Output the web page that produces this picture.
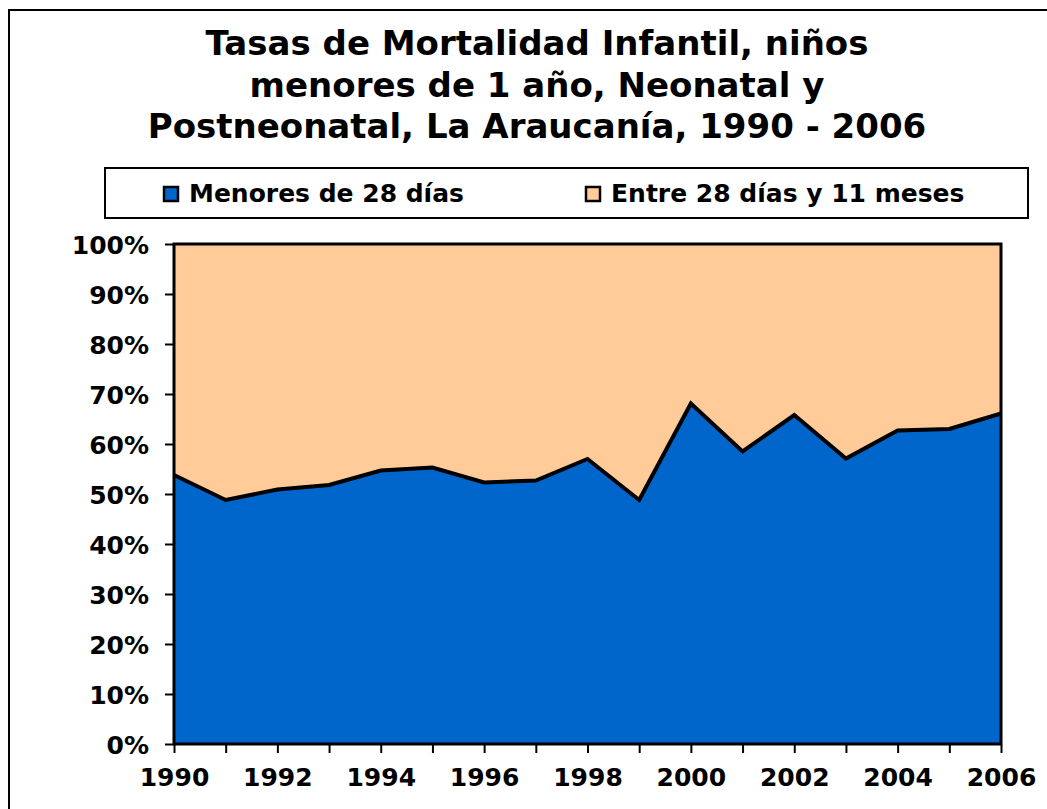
<!DOCTYPE html>
<html>
<head>
<meta charset="utf-8">
<script src="https://cdn.jsdelivr.net/npm/d3@7"></script>
<style>
  body { margin: 0; background: #fff; }
  text { font-family: "DejaVu Sans", Verdana, sans-serif; font-weight: bold; fill: #000; }
</style>
</head>
<body>
<div id="chart"></div>
<script>
(function () {
  // data (share of infant deaths, %)
  const years = [1990, 1991, 1992, 1993, 1994, 1995, 1996, 1997, 1998,
    1999, 2000, 2001, 2002, 2003, 2004, 2005, 2006];
  const neonatal = [53.8, 48.8, 50.9, 51.8, 54.7, 55.3, 52.3, 52.7, 57.0,
    48.8, 68.1, 58.5, 65.8, 57.1, 62.7, 63.0, 66.1];
  const seriesNames = ["Menores de 28 días", "Entre 28 días y 11 meses"];
  const seriesColors = ["#0066CC", "#FFCC99"];
  const yTicks = [0, 10, 20, 30, 40, 50, 60, 70, 80, 90, 100];
  const xLabelYears = [1990, 1992, 1994, 1996, 1998, 2000, 2002, 2004, 2006];
  const titleLines = [
    "Tasas de Mortalidad Infantil, niños",
    "menores de 1 año, Neonatal y",
    "Postneonatal, La Araucanía, 1990 - 2006",
  ];

  const W = 1047;
  const H = 809;
  const plot = { left: 174, right: 1001, top: 244, bottom: 744 };

  const svg = d3
    .select("#chart")
    .append("svg")
    .attr("width", W)
    .attr("height", H);

  // outer chart frame (runs off the right and bottom edges)
  svg
    .append("rect")
    .attr("x", 9)
    .attr("y", 10)
    .attr("width", 1060)
    .attr("height", 830)
    .style("fill", "#fff")
    .style("stroke", "#000")
    .style("stroke-width", 2);

  // title
  svg
    .selectAll("text.title")
    .data(titleLines)
    .join("text")
    .attr("class", "title")
    .attr("text-anchor", "middle")
    .attr("x", 537)
    .attr("y", (d, i) => 55 + i * 41.5)
    .style("font-size", "34px")
    .text((d) => d);

  // legend
  const legend = svg.append("g");
  legend
    .append("rect")
    .attr("x", 105)
    .attr("y", 168)
    .attr("width", 923)
    .attr("height", 50)
    .style("fill", "#fff")
    .style("stroke", "#000")
    .style("stroke-width", 2);
  const legendX = [164, 586];
  seriesNames.forEach((name, i) => {
    legend
      .append("rect")
      .attr("x", legendX[i])
      .attr("y", 187)
      .attr("width", 14)
      .attr("height", 14)
      .style("fill", seriesColors[i])
      .style("stroke", "#000")
      .style("stroke-width", 2.5);
    legend
      .append("text")
      .attr("x", legendX[i] + 25)
      .attr("y", 202)
      .style("font-size", "25px")
      .text(name);
  });

  const x = d3
    .scaleLinear()
    .domain([years[0], years[years.length - 1]])
    .range([plot.left, plot.right]);
  const y = d3
    .scaleLinear()
    .domain([0, 100])
    .range([plot.bottom, plot.top]);

  const rows = years.map((yr, i) => ({
    year: yr,
    a: neonatal[i],
    b: 100 - neonatal[i],
  }));
  const stacked = d3.stack().keys(["a", "b"])(rows);

  const area = d3
    .area()
    .x((d) => x(d.data.year))
    .y0((d) => y(d[0]))
    .y1((d) => y(d[1]));

  svg
    .selectAll("path.layer")
    .data(stacked)
    .join("path")
    .attr("class", "layer")
    .attr("d", area)
    .style("fill", (d, i) => seriesColors[i]);

  // boundary line between the two series
  svg
    .append("path")
    .datum(rows)
    .attr(
      "d",
      d3
        .line()
        .x((d) => x(d.year))
        .y((d) => y(d.a))
    )
    .style("fill", "none")
    .style("stroke", "#000")
    .style("stroke-width", 4)
    .style("stroke-linejoin", "miter");

  // plot border
  svg
    .append("rect")
    .attr("x", plot.left)
    .attr("y", plot.top)
    .attr("width", plot.right - plot.left)
    .attr("height", plot.bottom - plot.top)
    .style("fill", "none")
    .style("stroke", "#000")
    .style("stroke-width", 3);

  // y axis
  const yAxis = svg
    .append("g")
    .attr("transform", `translate(${plot.left - 1}, 0)`)
    .call(
      d3
        .axisLeft(y)
        .tickValues(yTicks)
        .tickSize(8)
        .tickPadding(16)
        .tickFormat((d) => d + "%")
    );
  yAxis.select(".domain").remove();
  yAxis.selectAll(".tick line").style("stroke", "#000").style("stroke-width", 2);
  yAxis
    .selectAll(".tick text")
    .style("font-size", "25px")
    .style("font-family", '"DejaVu Sans", Verdana, sans-serif')
    .attr("dy", "0.36em");

  // x axis
  const xAxis = svg
    .append("g")
    .attr("transform", `translate(0, ${plot.bottom + 1})`)
    .call(
      d3
        .axisBottom(x)
        .tickValues(years)
        .tickSize(8)
        .tickPadding(15)
        .tickFormat((d) => (xLabelYears.includes(d) ? d : ""))
    );
  xAxis.select(".domain").remove();
  xAxis.selectAll(".tick line").style("stroke", "#000").style("stroke-width", 2);
  xAxis
    .selectAll(".tick text")
    .style("font-size", "25px")
    .style("font-family", '"DejaVu Sans", Verdana, sans-serif');
})();
</script>
</body>
</html>
